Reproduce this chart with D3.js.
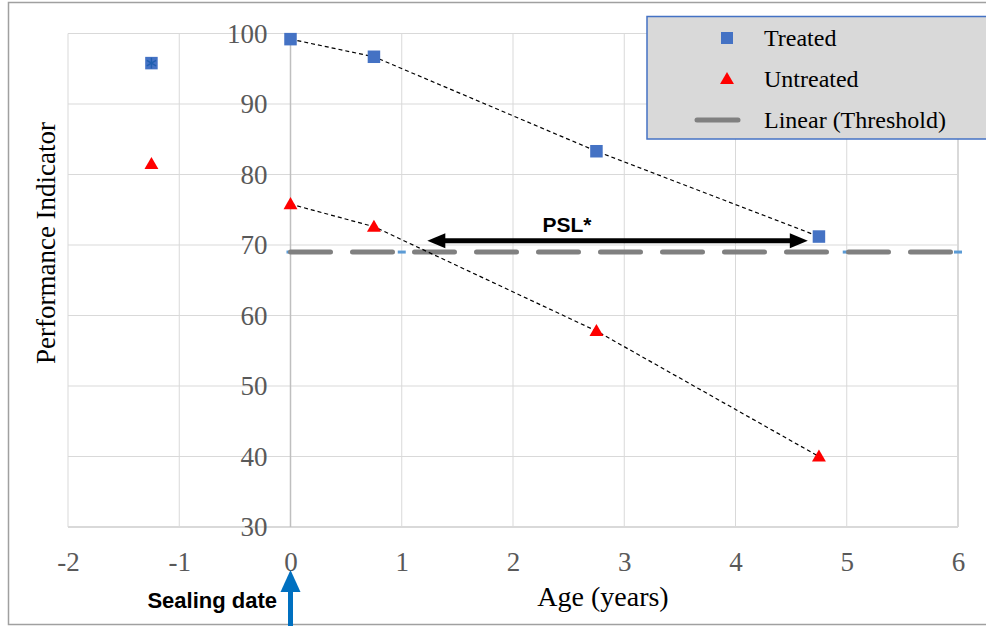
<!DOCTYPE html>
<html><head><meta charset="utf-8">
<script src="https://cdn.jsdelivr.net/npm/d3@7"></script>
<style>body{margin:0;background:#fff}svg{display:block}</style>
</head><body>
<svg id="chart" width="986" height="626"></svg>
<script>
// ---- data ----
const xTicks = [-2, -1, 0, 1, 2, 3, 4, 5, 6];
const yTicks = [30, 40, 50, 60, 70, 80, 90, 100];
const ageValues = [-1.25, 0, 0.75, 2.75, 4.75];
const treatedValues = [95.8, 99.2, 96.7, 83.3, 71.2];
const untreatedValues = [81.5, 75.8, 72.6, 57.8, 40.0];
const thresholdAges = [0, 1, 2, 3, 4, 5, 6];
const thresholdValue = 69;
const pslRange = [1.23, 4.65];
const pslLevel = 70.6;
const seriesNames = ["Treated", "Untreated", "Linear (Threshold)"];

const svg = d3.select("#chart");
const x = d3.scaleLinear().domain([-2, 6]).range([68, 958]);
const y = d3.scaleLinear().domain([30, 100]).range([527, 33.5]);
const serif = "'Liberation Serif','Times New Roman',serif";
const sans = "'Liberation Sans',Arial,sans-serif";

// outer frame
svg.append("rect").attr("x", 8.5).attr("y", 2.5).attr("width", 990).attr("height", 622)
  .attr("fill", "none").attr("stroke", "#a0a0a0").attr("stroke-width", 1.5);

// gridlines
const grid = svg.append("g");
grid.selectAll("line.v").data(xTicks).join("line")
  .attr("x1", d => x(d)).attr("x2", d => x(d)).attr("y1", y(100)).attr("y2", y(30))
  .attr("stroke", "#d9d9d9").attr("stroke-width", d => d === 6 ? 2 : 1);
grid.selectAll("line.h").data(yTicks).join("line")
  .attr("y1", d => y(d)).attr("y2", d => y(d)).attr("x1", x(-2)).attr("x2", x(6))
  .attr("stroke", "#d9d9d9").attr("stroke-width", d => d === 30 ? 2 : 1);
// vertical axis line at x=0
svg.append("line").attr("x1", x(0)).attr("x2", x(0)).attr("y1", y(100)).attr("y2", y(30))
  .attr("stroke", "#bfbfbf").attr("stroke-width", 1.5);

// axes (labels only)
const yAxis = svg.append("g").attr("transform", `translate(${x(0)},0)`)
  .call(d3.axisLeft(y).tickValues(yTicks).tickSize(0).tickPadding(23).tickFormat(d => String(d)));
const xAxis = svg.append("g").attr("transform", `translate(0,${y(30)})`)
  .call(d3.axisBottom(x).tickValues(xTicks).tickSize(0).tickPadding(25).tickFormat(d => String(d)));
[yAxis, xAxis].forEach(a => {
  a.select(".domain").remove();
  a.selectAll("text").attr("font-family", serif).attr("font-size", 27).attr("fill", "#595959");
});

// axis titles
svg.append("text").attr("transform", `translate(55,243) rotate(-90)`)
  .attr("text-anchor", "middle").attr("font-family", serif).attr("font-size", 27)
  .attr("fill", "#000").text("Performance Indicator");
svg.append("text").attr("x", 603).attr("y", 606).attr("text-anchor", "middle")
  .attr("font-family", serif).attr("font-size", 28).attr("fill", "#000").text("Age (years)");

// threshold series markers (blue dashes)
svg.append("g").selectAll("rect").data(thresholdAges).join("rect")
  .attr("x", d => x(d) - 4).attr("y", y(thresholdValue) - 1.5).attr("width", 8).attr("height", 3)
  .attr("fill", "#5b9bd5");
// Linear (Threshold) trendline
svg.append("line").attr("x1", x(0)).attr("x2", x(6))
  .attr("y1", y(thresholdValue)).attr("y2", y(thresholdValue))
  .attr("stroke", "#808080").attr("stroke-width", 5).attr("stroke-linecap", "round")
  .attr("stroke-dasharray", "40,22");

// dotted connectors (points from age 0 on)
const idx = ageValues.map((d, i) => i).filter(i => ageValues[i] >= 0);
svg.append("path").attr("d", d3.line().x(i => x(ageValues[i])).y(i => y(treatedValues[i]))(idx))
  .attr("fill", "none").attr("stroke", "#000").attr("stroke-width", 1.2).attr("stroke-dasharray", "4,3");
svg.append("path").attr("d", d3.line().x(i => x(ageValues[i])).y(i => y(untreatedValues[i]))(idx))
  .attr("fill", "none").attr("stroke", "#000").attr("stroke-width", 1.2).attr("stroke-dasharray", "4,3");

// markers
const sq = 12.5;
svg.append("g").selectAll("rect").data(ageValues).join("rect")
  .attr("x", d => x(d) - sq/2).attr("y", (d, i) => y(treatedValues[i]) - sq/2)
  .attr("width", sq).attr("height", sq).attr("fill", "#4472c4");
svg.append("path").attr("d", d3.symbol(d3.symbolAsterisk, 80)())
  .attr("transform", `translate(${x(ageValues[0])},${y(treatedValues[0])})`)
  .attr("stroke", "#1f5fb0").attr("stroke-width", 1.4).attr("fill", "none");
const tri = d3.symbol(d3.symbolTriangle, 84)();
svg.append("g").selectAll("path").data(ageValues).join("path")
  .attr("d", tri)
  .attr("transform", (d, i) => `translate(${x(d)},${y(untreatedValues[i]) + 1})`)
  .attr("fill", "#ff0000");

// PSL double arrow
const py = y(pslLevel);
const x1 = x(pslRange[0]), x2 = x(pslRange[1]);
svg.append("line").attr("x1", x1 + 14).attr("x2", x2 - 14).attr("y1", py).attr("y2", py)
  .attr("stroke", "#000").attr("stroke-width", 5);
svg.append("path").attr("d", `M${x1},${py} L${x1+18},${py-7.5} L${x1+18},${py+7.5} Z`).attr("fill", "#000");
svg.append("path").attr("d", `M${x2},${py} L${x2-18},${py-7.5} L${x2-18},${py+7.5} Z`).attr("fill", "#000");
svg.append("text").attr("x", 567).attr("y", 232).attr("text-anchor", "middle")
  .attr("font-family", sans).attr("font-weight", "bold").attr("font-size", 21).attr("fill", "#000")
  .text("PSL*");

// Sealing date arrow
const ax = x(0);
svg.append("line").attr("x1", ax).attr("x2", ax).attr("y1", 626).attr("y2", 588)
  .attr("stroke", "#0070c0").attr("stroke-width", 5);
svg.append("path").attr("d", `M${ax},570 L${ax-10},592 L${ax+10},592 Z`).attr("fill", "#0070c0");
svg.append("text").attr("x", 277).attr("y", 608).attr("text-anchor", "end")
  .attr("font-family", sans).attr("font-weight", "bold").attr("font-size", 22).attr("fill", "#000")
  .text("Sealing date");

// legend
const lg = svg.append("g");
lg.append("rect").attr("x", 647).attr("y", 16.5).attr("width", 360).attr("height", 122.5)
  .attr("fill", "#d9d9d9").attr("stroke", "#4472c4").attr("stroke-width", 1.5);
const rows = [38, 79, 120];
lg.append("rect").attr("x", 727 - 6).attr("y", rows[0] - 6).attr("width", 12).attr("height", 12).attr("fill", "#4472c4");
lg.append("path").attr("d", tri).attr("transform", `translate(727,${rows[1] + 1})`).attr("fill", "#ff0000");
lg.append("line").attr("x1", 697).attr("x2", 738).attr("y1", rows[2]).attr("y2", rows[2])
  .attr("stroke", "#808080").attr("stroke-width", 5).attr("stroke-linecap", "round");
lg.selectAll("text").data(seriesNames).join("text")
  .attr("x", 764).attr("y", (d, i) => rows[i] + 8)
  .attr("font-family", serif).attr("font-size", 24).attr("fill", "#000").text(d => d);
</script>
</body></html>
